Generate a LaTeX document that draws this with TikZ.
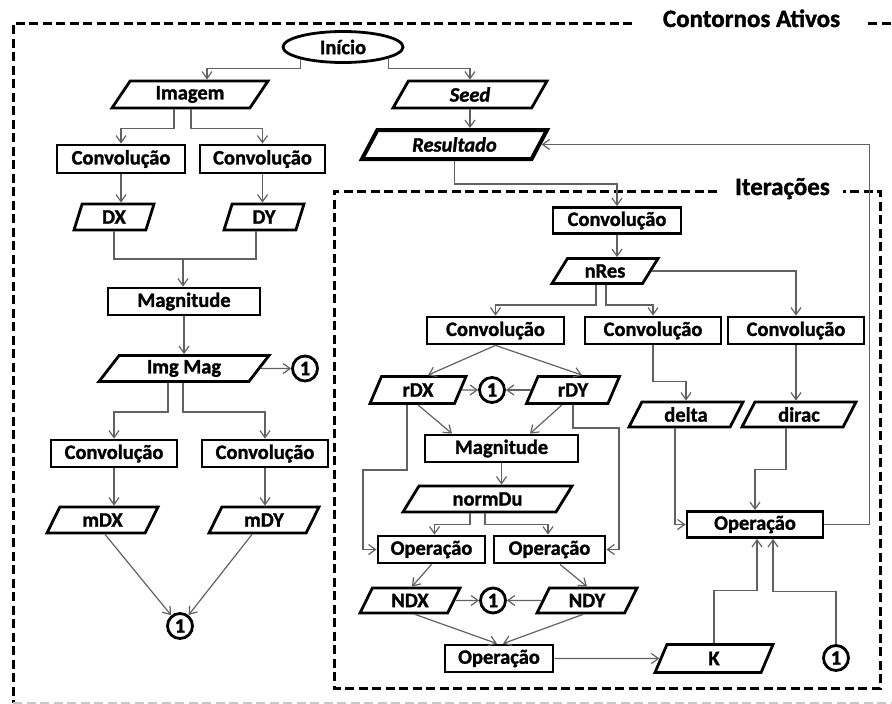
\documentclass[tikz,border=0pt]{standalone}
\usepackage{fontspec}
\setmainfont{Carlito}[BoldFeatures={FakeBold=1.3},BoldItalicFeatures={FakeBold=1.3}]
\usetikzlibrary{shapes.geometric,arrows.meta,calc}
\newcommand\nfont{\fontsize{20.5}{22}\selectfont\bfseries}
\newcommand\ttlfont{\fontsize{25}{28}\selectfont\bfseries}
\begin{document}
\begin{tikzpicture}[x=1pt,y=-1pt,
  boxbase/.style={draw=black,line width=2.8pt,font=\nfont,inner sep=1pt},
  proc/.style={boxbase,rectangle,minimum height=27},
  para/.style={boxbase,trapezium,trapezium stretches body=true,minimum height=26},
  onec/.style={boxbase,circle,minimum size=25,inner sep=0pt},
  conn/.style={draw=black!62,line width=1.2pt,-{Straight Barb[length=7pt,width=10pt]}},
  plainline/.style={draw=black!62,line width=1.2pt},
  outerframe/.style={draw=black,line width=3pt,dash pattern=on 9pt off 4.5pt},
  ttl/.style={font=\ttlfont,anchor=base,inner sep=0pt}]
\useasboundingbox (0,0) rectangle (892,704);
% frames
\draw[outerframe] (632,23) -- (13,23) -- (13,703);
\draw[outerframe] (868,23) -- (892,23);
\draw[outerframe,draw=black!22] (13,703.5) -- (892,703.5);
\draw[outerframe] (717,191) -- (334,191) -- (334,688) -- (880,688) -- (880,191) -- (843,191);
\node[ttl] (t1) at (751.5,27) {Contornos Ativos};
\node[ttl] (t2) at (782.5,195) {Iterações};
% left column
\node[boxbase,ellipse,inner sep=0pt,minimum width=120,minimum height=31] (inicio) at (343,47) {Início};
\node[para,trapezium left angle=46,trapezium right angle=134,minimum width=156,minimum height=27] (imagem) at (190,94.5) {Imagem};
\node[para,trapezium left angle=47,trapezium right angle=133,minimum width=154,minimum height=27] (seed) at (470,94.5) {\itshape Seed};
\node[para,trapezium left angle=47,trapezium right angle=133,minimum width=185,minimum height=29,line width=4pt] (resultado) at (454.5,144.5) {\itshape Resultado};
\node[proc,minimum width=128,minimum height=28] (convL1) at (121,159) {Convolução};
\node[proc,minimum width=125,minimum height=28] (convL2) at (262.5,159) {Convolução};
\node[para,trapezium left angle=62,trapezium right angle=118,minimum width=80] (dx) at (114,217) {DX};
\node[para,trapezium left angle=62,trapezium right angle=118,minimum width=80] (dy) at (264,217) {DY};
\node[proc,minimum width=152] (magL) at (184,301.5) {Magnitude};
\node[para,trapezium left angle=43,trapezium right angle=137,minimum width=170] (imgmag) at (184,368.5) {Img Mag};
\node[onec] (c1a) at (305,368.5) {1};
\node[proc,minimum width=126] (convL3) at (114,453.5) {Convolução};
\node[proc,minimum width=126] (convL4) at (265,453.5) {Convolução};
\node[para,trapezium left angle=50,trapezium right angle=130,minimum width=111] (mdx) at (102.5,520) {mDX};
\node[para,trapezium left angle=50,trapezium right angle=130,minimum width=110] (mdy) at (264,520) {mDY};
\node[onec] (c1b) at (180,626) {1};
% right part
\node[proc,minimum width=128,minimum height=26] (convT) at (617,220.5) {Convolução};
\node[para,trapezium left angle=45,trapezium right angle=135,minimum width=106,minimum height=25] (nres) at (605,271) {nRes};
\node[proc,minimum width=137] (convA) at (495.5,330.5) {Convolução};
\node[proc,minimum width=136] (convB) at (653,330.5) {Convolução};
\node[proc,minimum width=136] (convC) at (796,330.5) {Convolução};
\node[para,trapezium left angle=53,trapezium right angle=127,minimum width=96,minimum height=27] (rdx) at (418,390) {rDX};
\node[onec] (c1c) at (492,390) {1};
\node[para,trapezium left angle=53,trapezium right angle=127,minimum width=93,minimum height=27] (rdy) at (573,390) {rDY};
\node[proc,minimum width=153] (magR) at (501.5,448.5) {Magnitude};
\node[para,trapezium left angle=52,trapezium right angle=128,minimum width=114,minimum height=25] (delta) at (686,414.5) {delta};
\node[para,trapezium left angle=52,trapezium right angle=128,minimum width=114,minimum height=25] (dirac) at (799,414.5) {dirac};
\node[para,trapezium left angle=44,trapezium right angle=136,minimum width=169] (normdu) at (487.5,499) {normDu};
\node[proc,minimum width=107] (opL) at (431.5,549.5) {Operação};
\node[proc,minimum width=111] (opR) at (549.5,549.5) {Operação};
\node[proc,minimum width=136,minimum height=26] (opX) at (755,524.5) {Operação};
\node[para,trapezium left angle=51,trapezium right angle=129,minimum width=100,minimum height=25] (ndx) at (410,600.5) {NDX};
\node[onec] (c1d) at (493,600.5) {1};
\node[para,trapezium left angle=51,trapezium right angle=129,minimum width=100,minimum height=25] (ndy) at (587,600.5) {NDY};
\node[proc,minimum width=108] (opB) at (499,658.5) {Operação};
\node[para,trapezium left angle=52,trapezium right angle=128,minimum width=118,minimum height=28] (k) at (714,658.5) {K};
\node[onec] (c1e) at (836,658) {1};
% connectors left
\draw[conn] (inicio.196) -- ++(0,9.5) -| ($(imagem.north)+(17,0)$);
\draw[conn] (inicio.346) -- ++(0,10.2) -| (seed.north);
\draw[conn] ($(imagem.south)+(-16,0)$) -- ++(0,19) -| (convL1.north);
\draw[conn] ($(imagem.south)+(1,0)$) -- ++(0,19) -| (convL2.north);
\draw[conn] (convL1.south) -- (convL1.south |- dx.north);
\draw[conn] (convL2.south) -- (convL2.south |- dy.north);
\coordinate (jL) at (183,259);
\draw[plainline] (dx.south) |- (jL) -| ($(dy.south)+(-8,0)$);
\draw[conn] (jL) -- (jL |- magL.north);
\draw[conn] (magL.south) -- (magL.south |- imgmag.north);
\draw[conn] (imgmag.east) -- (c1a.west);
\draw[conn] ($(imgmag.south)+(-16,0)$) -- ++(0,29) -| (convL3.north);
\draw[conn] ($(imgmag.south)+(-1,0)$) -- ++(0,29) -| (convL4.north);
\draw[conn] (convL3.south) -- (convL3.south |- mdx.north);
\draw[conn] (convL4.south) -- (convL4.south |- mdy.north);
\draw[conn] ($(mdx.south)+(2.5,0)$) -- (c1b);
\draw[conn] ($(mdy.south)+(-12,0)$) -- (c1b);
% connectors right
\draw[conn] (seed.south) -- (seed.south |- resultado.north);
\draw[conn] (resultado.south) -- ++(0,23) -| (convT.north);
\draw[conn] (convT.south) -- (convT.south |- nres.north);
\draw[conn] ($(nres.south)+(-9,0)$) -- ++(0,20) -| (convA.north);
\draw[conn] ($(nres.south)+(1,0)$) -- ++(0,20) -| (convB.north);
\draw[conn] (nres.east) -| (convC.north);
\draw[conn] (convA.south) -- ($(rdx.north)+(10,0)$);
\draw[conn] (convA.south) -- ($(rdy.north)+(9,0)$);
\draw[conn] (rdx.east) -- (c1c.west);
\draw[conn] (rdy.west) -- (c1c.east);
\draw[conn] (rdx.south) -- ($(magR.north)+(-49.5,0)$);
\draw[conn] ($(rdy.south)+(-11,0)$) -- ($(magR.north)+(28.5,0)$);
\draw[conn] (magR.south) -- (magR.south |- normdu.north);
\draw[conn] ($(rdx.south)+(-11,0)$) -- ++(0,65) -- ++(-44,0) |- (opL.west);
\draw[conn] (rdy.south) -- ++(0,23) -- ++(46,0) |- (opR.east);
\draw[conn] ($(normdu.south)+(-17.5,0)$) -- ++(0,11) -| ($(opL.north)+(3,0)$);
\draw[conn] ($(normdu.south)+(-2.5,0)$) -- ++(0,11) -| ($(opR.north)+(-1.5,0)$);
\draw[conn] (opL.south) -- ($(ndx.north)+(2,0)$);
\draw[conn] ($(opR.south)+(10.5,0)$) -- (ndy.north);
\draw[conn] (ndx.east) -- (c1d.west);
\draw[conn] (ndy.west) -- (c1d.east);
\draw[conn] ($(ndx.south)+(5,0)$) -- ($(opB.north)+(-2,0)$);
\draw[conn] ($(ndy.south)+(-4,0)$) -- ($(opB.north)+(4,0)$);
\draw[conn] (opB.east) -- (k.west);
\draw[conn] (convB.south) -- ++(0,36) -| (delta.north);
\draw[conn] (convC.south) -- (convC.south |- dirac.north);
\draw[conn] ($(delta.south)+(-11,0)$) |- (opX.west);
\draw[conn] ($(dirac.south)+(-13,0)$) -- ++(0,41) -| (opX.north);
\draw[conn] (opX.east) -- ++(45,0) |- (resultado.east);
\draw[conn] (k.north) -- ++(0,-53) -| ($(opX.south)+(2,0)$);
\draw[conn] (c1e.north) -- ++(0,-53) -| ($(opX.south)+(18,0)$);
\end{tikzpicture}
\end{document}
